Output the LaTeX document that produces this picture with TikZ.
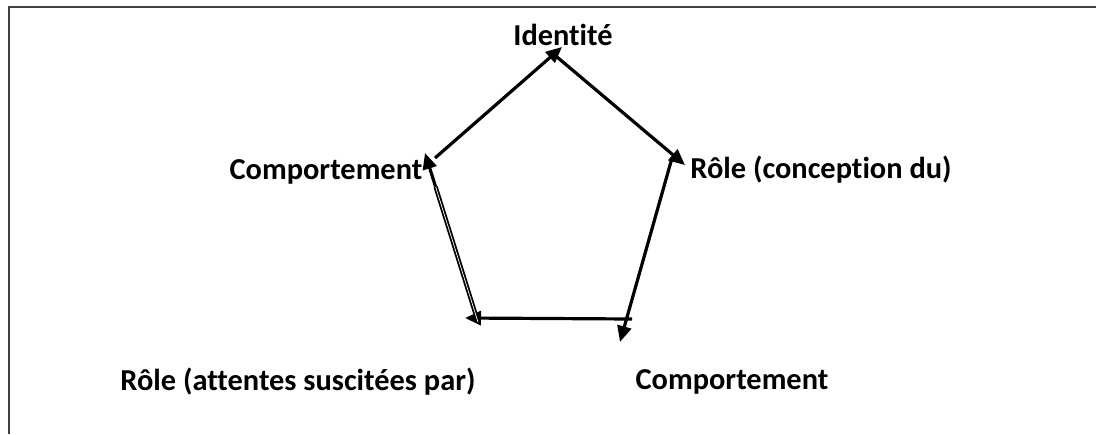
\documentclass[tikz,border=0pt]{standalone}
\usepackage{fontspec}
\setmainfont[Ligatures={NoCommon}]{Carlito}
\usetikzlibrary{arrows.meta}
\usetikzlibrary{calc}

\begin{document}
\begin{tikzpicture}[x=0.5pt,y=-0.5pt]

\tikzstyle{word} = [font=\fontsize{15.2}{18}\selectfont\bfseries, inner sep=0]
\tikzstyle{arrowline} = [line width=1.6pt, -{Triangle[length=8pt,width=7pt]}]
\tikzstyle{frame} = [line width=1pt, draw=black!75]

\useasboundingbox (0,0) rectangle (1096,434);
\draw[frame] (8.5,434) -- (8.5,6.5) -- (1096,6.5);

\node[word] (ident) at (563,35) {Identité};
\node[word] (compL) at (326,172) {Comportement};
\node[word] (roleC) at (821,170) {Rôle (conception du)};
\node[word] (roleA) at (298,382) {Rôle (attentes suscitées par)};
\node[word] (compB) at (732,382) {Comportement};

% ends of the arrows
\coordinate (top) at (562,47);
\coordinate (topR) at (557,57);
\coordinate (rgt) at (685,165);
\coordinate (rgtB) at (672,158);
\coordinate (bot) at (620,342);
\coordinate (botR) at (632,319);
\coordinate (botL) at (465,318);
\coordinate (lftB) at (478,322);
\coordinate (lft) at (425,153);
\coordinate (lftT) at (435,158);
\coordinate (lftM) at ($(lft)!0.2!(lftB)$);

\draw[arrowline] (lftT) -- (top);
\draw[arrowline] (topR) -- (rgt);
\draw[arrowline] (rgtB) -- (bot);
\draw[arrowline] (botR) -- (botL);
\draw[line width=0.9pt, double, double distance=0.35pt] (lftB) -- (lftM);
\draw[arrowline] (lftM) -- (lft);

\end{tikzpicture}
\end{document}
